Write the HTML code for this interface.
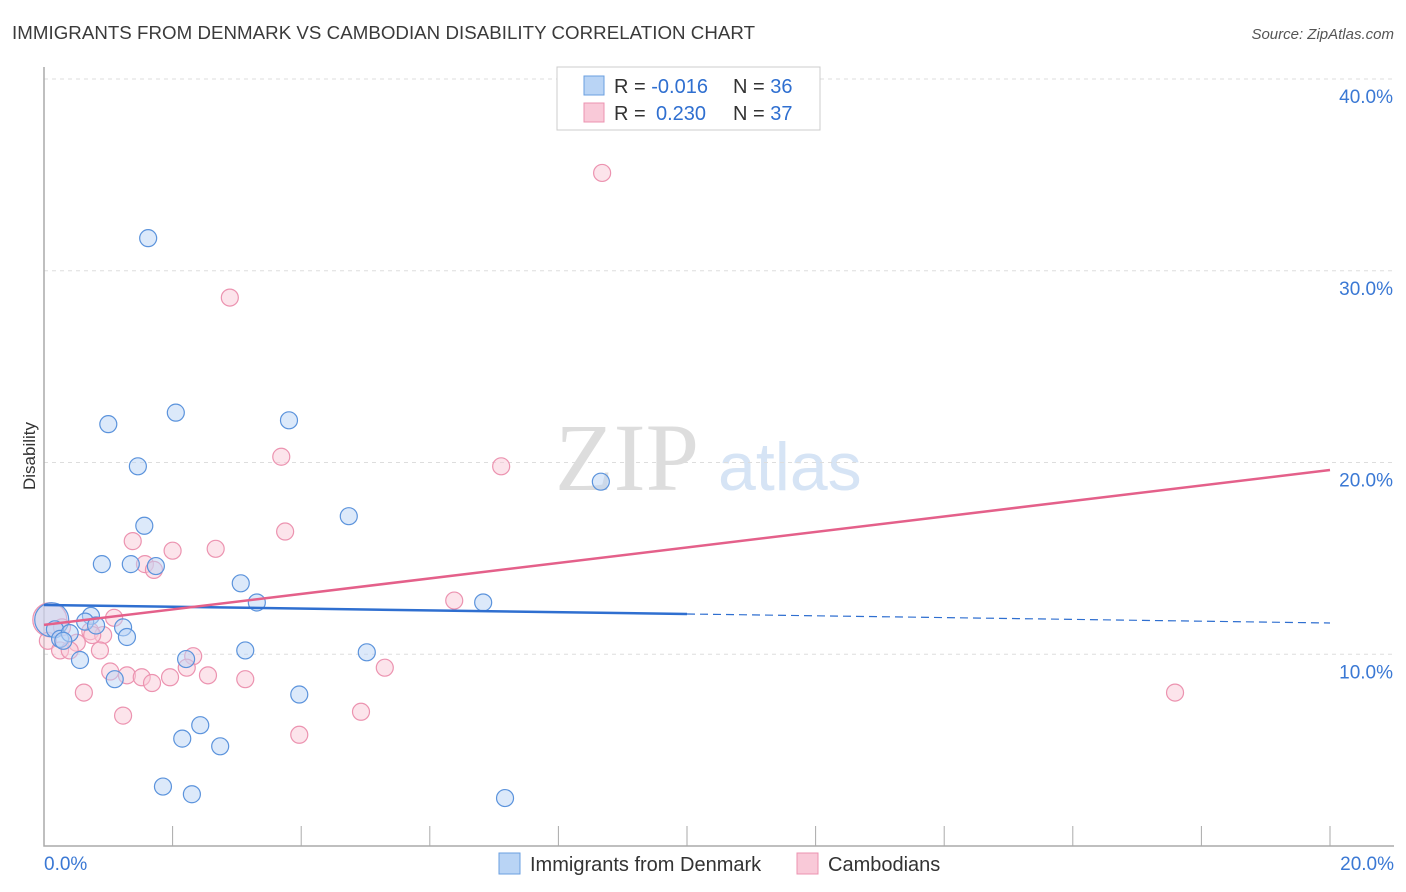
<!DOCTYPE html>
<html><head><meta charset="utf-8"><style>
body{margin:0;background:#fff;font-family:"Liberation Sans",sans-serif}
</style></head><body>
<svg id="chart" width="1406" height="892" style="display:block">
<text x="12" y="39" font-size="18.7" fill="#3a3a3a" textLength="743">IMMIGRANTS FROM DENMARK VS CAMBODIAN DISABILITY CORRELATION CHART</text>
<text x="1394" y="39" font-size="15" fill="#555" font-style="italic" text-anchor="end">Source: ZipAtlas.com</text>
<text x="35" y="456" font-size="17" fill="#333" text-anchor="middle" transform="rotate(-90 35 456)">Disability</text>
<text x="555" y="490" font-size="96" fill="#ddd" font-family="Liberation Serif,serif">ZIP</text>
<text x="718" y="490" font-size="68" fill="#d6e4f5">atlas</text>
<g id="grid"></g><g id="axes"></g><g id="pts"></g><g id="lines"></g>
<g>
<rect x="557" y="67" width="263" height="63" fill="#fff" stroke="#ccc"/>
<rect x="584" y="76" width="20" height="19" fill="#b9d4f5" stroke="#6a9fe0"/>
<rect x="584" y="103" width="20" height="19" fill="#f9c9d8" stroke="#ec93b0"/>
<text x="614" y="93" font-size="20" fill="#333">R = <tspan fill="#2f6fd0">-0.016</tspan><tspan x="733">N = </tspan><tspan fill="#2f6fd0">36</tspan></text>
<text x="614" y="120" font-size="20" fill="#333">R = <tspan fill="#2f6fd0" x="656">0.230</tspan><tspan x="733">N = </tspan><tspan fill="#2f6fd0">37</tspan></text>
</g>
<g>
<rect x="499" y="853" width="21" height="21" fill="#b9d4f5" stroke="#6a9fe0"/>
<text x="530" y="871" font-size="20" fill="#333">Immigrants from Denmark</text>
<rect x="797" y="853" width="21" height="21" fill="#f9c9d8" stroke="#ec93b0"/>
<text x="828" y="871" font-size="20" fill="#333">Cambodians</text>
</g>
</svg>
<script>
const blueX=[1.62,1.0,2.05,3.81,1.46,8.66,4.74,1.56,0.90,1.35,1.74,3.06,3.31,6.83,0.73,0.64,0.81,1.23,1.29,0.12,0.17,0.25,0.40,3.13,5.02,0.56,2.21,1.10,3.97,2.43,2.15,2.74,1.85,2.30,7.17,0.30];
const blueY=[31.7,22.0,22.6,22.2,19.8,19.0,17.2,16.7,14.7,14.7,14.6,13.7,12.7,12.7,12.0,11.7,11.5,11.4,10.9,11.8,11.3,10.8,11.1,10.2,10.1,9.7,9.75,8.7,7.9,6.3,5.6,5.2,3.1,2.7,2.5,10.7];
const pinkX=[8.68,2.89,3.69,7.11,3.75,1.38,2.0,2.67,1.57,1.71,6.38,1.09,0.09,0.06,0.72,0.92,0.75,0.51,0.25,0.40,0.87,2.32,2.22,1.03,1.29,1.52,1.96,2.55,3.13,5.30,1.68,0.62,17.59,1.23,4.93,3.97,0.28];
const pinkY=[35.1,28.6,20.3,19.8,16.4,15.9,15.4,15.5,14.7,14.4,12.8,11.9,11.8,10.7,11.2,11.0,11.0,10.6,10.2,10.2,10.2,9.9,9.3,9.1,8.9,8.8,8.8,8.9,8.7,9.3,8.5,8.0,8.0,6.8,7.0,5.8,11.4];
const blueTrend=[12.57,11.63];
const pinkTrend=[11.53,19.61];
const yTicks=[10,20,30,40];
const xTickLabels=["0.0%","20.0%"];
const NS="http://www.w3.org/2000/svg";
const xs=v=>44+v/20*1286, ys=v=>846-v*19.175;
function mk(t,a,p){const e=document.createElementNS(NS,t);for(const k in a)e.setAttribute(k,a[k]);p.appendChild(e);return e;}
const grid=document.getElementById('grid'),axes=document.getElementById('axes'),pts=document.getElementById('pts'),lines=document.getElementById('lines');
yTicks.forEach(t=>{
 const l=mk('line',{x1:44,x2:1394,y1:ys(t),y2:ys(t),stroke:'#ddd','stroke-dasharray':'4 4'},grid);
 
 
 const tx=mk('text',{x:1393,y:ys(t)+24,'font-size':19,fill:'#3a78d4','text-anchor':'end'},axes);tx.textContent=t.toFixed(1)+'%';
 
 
});
const ax=mk('path',{d:'M44 67V846H1394',stroke:'#aaa',fill:'none','stroke-width':1.5},axes);


for(let i=1;i<=10;i++){const t=mk('line',{x1:xs(i*2),x2:xs(i*2),y1:826,y2:846,stroke:'#aaa'},axes);
 
 }
[[0,'start',44],[20,'end',1394]].forEach((d,i)=>{const t=mk('text',{x:d[2],y:870,'font-size':19,fill:'#3a78d4','text-anchor':d[1]},axes);t.textContent=xTickLabels[i];
 
 });
function dots(X,Y,fill,stroke,name){X.forEach((x,i)=>{const big=x<0.15&&Math.abs(Y[i]-11.8)<0.2;
 const c=mk('circle',{cx:xs(x),cy:ys(Y[i]),r:big?17:8.5,fill:fill,'fill-opacity':0.5,stroke:stroke,'stroke-width':1.2},pts);
 
 });}
dots(pinkX,pinkY,'#f9c9d8','#ec93b0','cambodians-point');
dots(blueX,blueY,'#b9d4f5','#5b93dc','denmark-point');
const bm=blueTrend[0]+(blueTrend[1]-blueTrend[0])*0.5;
const b1=mk('line',{x1:xs(0),y1:ys(blueTrend[0]),x2:xs(10),y2:ys(bm),stroke:'#2f6fd0','stroke-width':2.5},lines);


const b2=mk('line',{x1:xs(10),y1:ys(bm),x2:xs(20),y2:ys(blueTrend[1]),stroke:'#2f6fd0','stroke-width':1.2,'stroke-dasharray':'8 5'},lines);


const p1=mk('line',{x1:xs(0),y1:ys(pinkTrend[0]),x2:xs(20),y2:ys(pinkTrend[1]),stroke:'#e4608a','stroke-width':2.5},lines);


</script>
</body></html>
